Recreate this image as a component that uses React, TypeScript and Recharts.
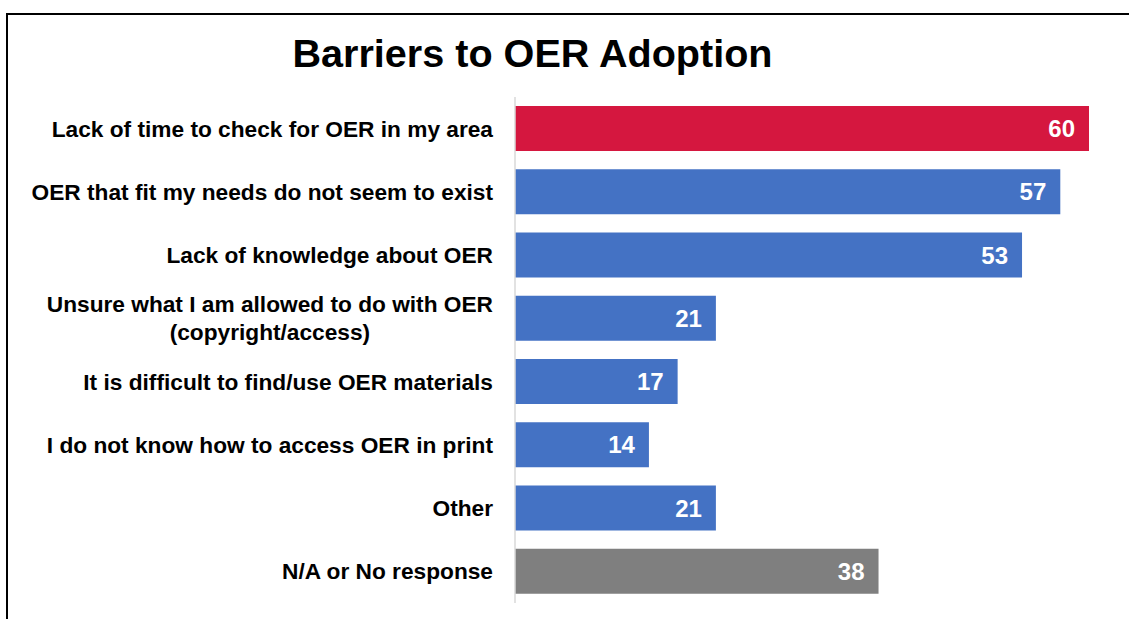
import { BarChart, Bar, XAxis, YAxis, Cell, LabelList } from 'recharts'

const categories = [
  'Lack of time to check for OER in my area',
  'OER that fit my needs do not seem to exist',
  'Lack of knowledge about OER',
  'Unsure what I am allowed to do with OER\n(copyright/access)',
  'It is difficult to find/use OER materials',
  'I do not know how to access OER in print',
  'Other',
  'N/A or No response'
]
const counts = [60, 57, 53, 21, 17, 14, 21, 38]
const barColors = ['#D5173F', '#4472C4', '#4472C4', '#4472C4', '#4472C4', '#4472C4', '#4472C4', '#7F7F7F']

const data = categories.map((name, i) => ({ name, value: counts[i] }))

const FONT = '"Liberation Sans", Arial, sans-serif'
const TICK_SIZE = 22.7

let ctx: CanvasRenderingContext2D | null = null
function textWidth(s: string) {
  if (!ctx) ctx = document.createElement('canvas').getContext('2d')
  if (!ctx) return s.length * TICK_SIZE * 0.55
  ctx.font = `700 ${TICK_SIZE}px ${FONT}`
  return ctx.measureText(s).width
}

// multi-line labels are centred as a block, right-aligned against the axis
function CategoryTick(props: any) {
  const { x, y, payload } = props
  const lines = String(payload.value).split('\n')
  const lineH = 28
  const startY = y - ((lines.length - 1) * lineH) / 2
  const blockW = Math.max(...lines.map(textWidth))
  const cx = lines.length > 1 ? x - blockW / 2 : x
  return (
    <text
      x={cx}
      y={startY}
      textAnchor={lines.length > 1 ? 'middle' : 'end'}
      dominantBaseline="central"
      fontFamily={FONT}
      fontWeight={700}
      fontSize={TICK_SIZE}
      fill="#000"
    >
      {lines.map((line, i) => (
        <tspan key={i} x={cx} y={startY + i * lineH}>
          {line}
        </tspan>
      ))}
    </text>
  )
}

export default function App() {
  return (
    <div style={{ position: 'absolute', left: 0, top: 0, width: 1129, height: 619, background: '#fff' }}>
      <div
        style={{
          position: 'absolute',
          left: 6,
          top: 13,
          right: 0,
          bottom: 0,
          borderTop: '2px solid #000',
          borderLeft: '2px solid #000'
        }}
      />
      <div
        style={{
          position: 'absolute',
          left: 0,
          width: 1065,
          top: 31,
          textAlign: 'center',
          fontFamily: FONT,
          fontWeight: 700,
          fontSize: 39.6,
          color: '#000'
        }}
      >
        Barriers to OER Adoption
      </div>
      <div style={{ position: 'absolute', left: 0, top: 0 }}>
        <BarChart
          width={1129}
          height={619}
          data={data}
          layout="vertical"
          margin={{ top: 97, right: 40, bottom: 16, left: 0 }}
        >
          <XAxis type="number" domain={[0, 60]} hide />
          <YAxis
            type="category"
            dataKey="name"
            width={515}
            tickLine={false}
            tickSize={6}
            tickMargin={16}
            axisLine={{ stroke: '#D9D9D9', strokeWidth: 1.5 }}
            tick={<CategoryTick />}
            interval={0}
          />
          <Bar dataKey="value" barSize={45} isAnimationActive={false}>
            {data.map((entry, index) => (
              <Cell key={`cell-${index}`} fill={barColors[index]} />
            ))}
            <LabelList
              dataKey="value"
              position="insideRight"
              offset={14}
              fill="#fff"
              fontFamily={FONT}
              fontWeight={700}
              fontSize={24}
            />
          </Bar>
        </BarChart>
      </div>
    </div>
  )
}
